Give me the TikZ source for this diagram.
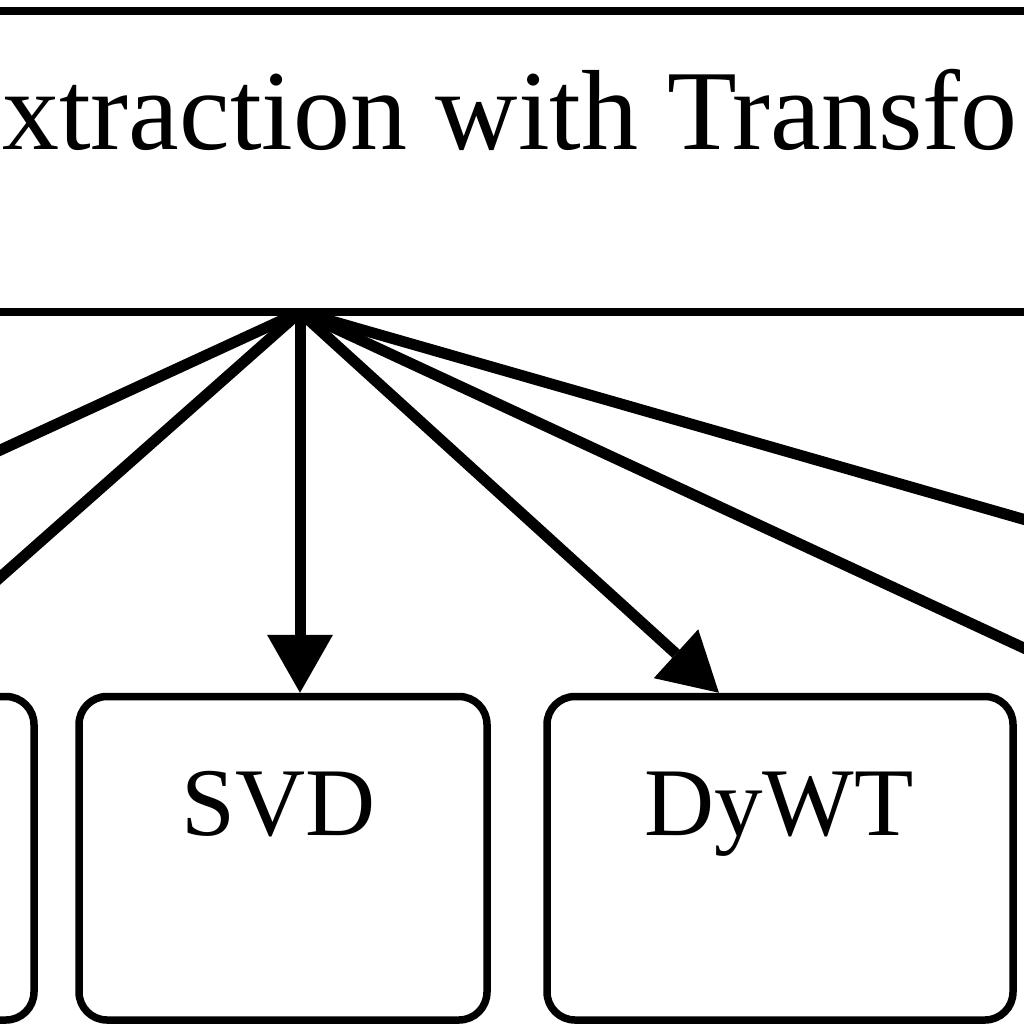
\documentclass[tikz,border=0pt]{standalone}
\usepackage{fontspec}
\setmainfont{Liberation Serif}
\usetikzlibrary{arrows.meta,backgrounds,calc}
\begin{document}
\begin{tikzpicture}[x=1pt,y=-1pt,
  boxstyle/.style={draw=black, line width=7.5pt, fill=white, rounded corners=28pt, inner sep=0pt},
  topbox/.style={draw=black, line width=7.5pt, fill=white, inner sep=0pt},
  edgeline/.style={draw=black, line width=11pt},
  arrowedge/.style={edgeline, -{Triangle[length=58pt,width=66pt,line width=0pt]}},
  toptxt/.style={font=\fontsize{114}{130}\selectfont, inner sep=0pt, anchor=base west},
  boxtxt/.style={font=\fontsize{97}{110}\selectfont, inner sep=0pt, anchor=base}]
\useasboundingbox (0,0) rectangle (1024,1024);
% nodes
\node[topbox, minimum width=1200pt, minimum height=301pt] (top) at (512,161.5) {};
\node[toptxt] (toplabel) at (2,150) {xtraction with Transfo};
\node[boxstyle, minimum width=414pt, minimum height=323.5pt] (left) at (-173,858.25) {};
\node[boxstyle, minimum width=408pt, minimum height=323.5pt] (svd) at (283,858.25) {};
\node[boxtxt] (svdlabel) at (279,835) {SVD};
\node[boxstyle, minimum width=466pt, minimum height=323.5pt] (dywt) at (780,858.25) {};
\node[boxtxt] (dywtlabel) at (779,835) {DyWT};
% connector ends
\coordinate (o) at (300,312);
\coordinate (l1) at (-30,464);
\coordinate (l2) at (-30,604);
\coordinate (r1) at (1054,528);
\coordinate (r2) at (1054,662);
\begin{pgfonlayer}{background}
\clip (0,0) rectangle (1024,1024);
\draw[edgeline] (o) -- (l1);
\draw[edgeline] (o) -- (l2);
\draw[arrowedge] (o) -- (o |- svd.north);
\draw[arrowedge] (o) -- ($(dywt.north west)!0.371!(dywt.north east)$);
\draw[edgeline] (o) -- (r1);
\draw[edgeline] (o) -- (r2);
\end{pgfonlayer}
\end{tikzpicture}
\end{document}
